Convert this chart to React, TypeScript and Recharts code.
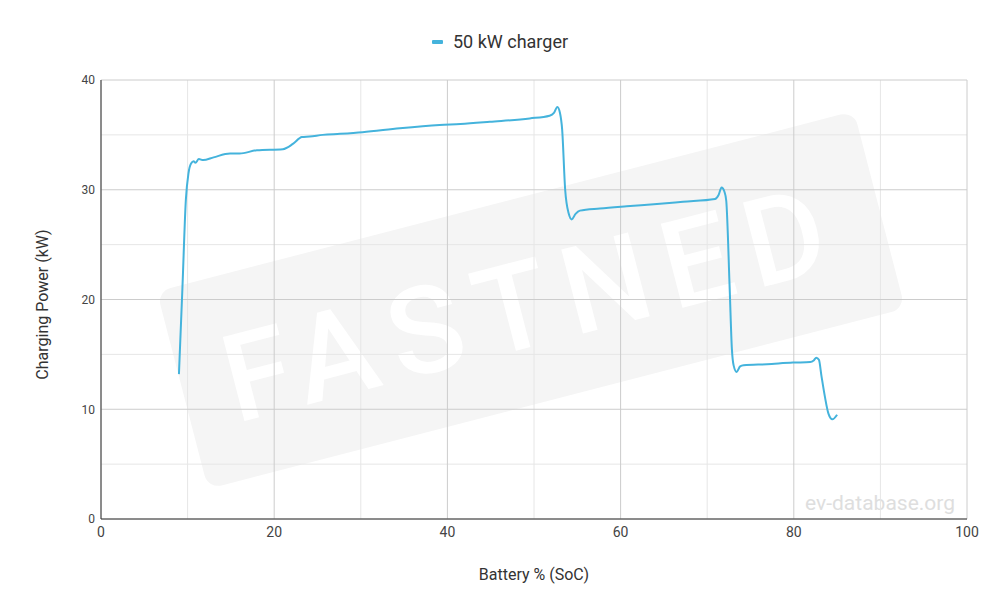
import React from 'react'
import { LineChart, Line, XAxis, YAxis, CartesianGrid, Label } from 'recharts'

const SERIES_NAME = '50 kW charger'
const LINE_COLOR = '#44b3dc'

const soc = [
  9.0, 9.4, 9.8, 10.1, 10.4, 10.7, 10.9, 11.3, 11.8, 13.0, 14.9, 16.0, 18.0, 21.0, 22.2, 23.2, 24.1,
  25.6, 27.6, 30.2, 34.5, 39.1, 41.5, 44.9, 49.5, 51.8, 52.3, 52.7, 53.0, 53.25, 53.6, 54.0, 54.35,
  54.8, 55.3, 57.6, 60.7, 64.2, 67.2, 70.9, 71.3, 71.66, 72.0, 72.2, 72.6, 72.85, 73.05, 73.4, 73.8,
  74.2, 76.9, 79.9, 81.9, 82.3, 82.6, 82.9, 83.2, 83.6, 84.0, 84.45, 85.0,
]
const power = [
  13.2, 21.0, 29.1, 31.5, 32.4, 32.6, 32.45, 32.8, 32.7, 32.95, 33.3, 33.3, 33.6, 33.7, 34.2, 34.8, 34.85,
  35.0, 35.1, 35.25, 35.6, 35.9, 36.0, 36.2, 36.5, 36.75, 37.0, 37.55, 37.0, 35.5, 30.0, 27.85, 27.3,
  27.8, 28.1, 28.3, 28.5, 28.7, 28.9, 29.15, 29.5, 30.2, 29.8, 29.0, 20.9, 15.5, 14.0, 13.4, 13.9,
  14.0, 14.1, 14.25, 14.3, 14.45, 14.7, 14.5, 13.0, 11.1, 9.6, 9.08, 9.5,
]

const xDomain = [0, 100]
const yDomain = [0, 40]
const xTicks = [0, 20, 40, 60, 80, 100]
const yTicks = [0, 10, 20, 30, 40]
const xMinor = [10, 30, 50, 70, 90]
const yMinor = [5, 15, 25, 35]

const data = soc.map((s, i) => ({ soc: s, power: power[i] }))

const font = 'Roboto, "Noto Sans", sans-serif'

function Watermark() {
  return (
    <svg width={1000} height={613} style={{ position: 'absolute', top: 0, left: 0 }}>
      <g transform="translate(531 300) rotate(-14.5)">
        <rect x={-360} y={-102} width={720} height={204} rx={14} fill="#f5f5f5" />
        <text
          x={0}
          y={4}
          textAnchor="middle"
          dominantBaseline="central"
          fill="#ffffff"
          fontFamily={font}
          fontSize={122}
          fontWeight={500}
          letterSpacing={16}
        >
          FASTNED
        </text>
      </g>
      <text x={955} y={510} textAnchor="end" fill="#dedede" fontFamily={font} fontSize={21}>
        ev-database.org
      </text>
    </svg>
  )
}

export default function App() {
  // minor grid lines, placed from the plot offset
  const minorV = (p: any) =>
    xMinor.map((v) => p.offset.left + ((v - xDomain[0]) / (xDomain[1] - xDomain[0])) * p.offset.width)
  const minorH = (p: any) =>
    yMinor.map((v) => p.offset.top + (1 - (v - yDomain[0]) / (yDomain[1] - yDomain[0])) * p.offset.height)

  return (
    <div style={{ position: 'relative', width: 1000, height: 613, fontFamily: font }}>
      <style>{`body{margin:0}`}</style>
      <Watermark />
      <div
        style={{
          position: 'absolute',
          top: 31,
          left: 0,
          width: 1000,
          display: 'flex',
          justifyContent: 'center',
          alignItems: 'center',
          gap: 10,
          zIndex: 2,
        }}
      >
        <span style={{ display: 'inline-block', width: 11, height: 4, background: LINE_COLOR, borderRadius: 1 }} />
        <span style={{ fontSize: 18, color: '#333' }}>{SERIES_NAME}</span>
      </div>
      <div style={{ position: 'absolute', top: 0, left: 0, zIndex: 1 }}>
        <LineChart width={1000} height={613} data={data} margin={{ top: 80, right: 33, bottom: 0, left: 0 }}>
          <CartesianGrid
            stroke="#e6e6e6"
            verticalCoordinatesGenerator={minorV}
            horizontalCoordinatesGenerator={minorH}
          />
          <CartesianGrid stroke="#cccccc" />
          <XAxis
            dataKey="soc"
            type="number"
            domain={xDomain}
            ticks={xTicks}
            height={94}
            tickLine={false}
            tickSize={0}
            tickMargin={8}
            stroke="#333"
            tick={{ fill: '#444', fontSize: 14, fontFamily: font }}
          >
            <Label
              content={({ viewBox }: any) => (
                <text
                  x={viewBox.x + viewBox.width / 2}
                  y={574}
                  textAnchor="middle"
                  dominantBaseline="central"
                  fill="#333"
                  fontSize={16}
                  fontFamily={font}
                >
                  Battery % (SoC)
                </text>
              )}
            />
          </XAxis>
          <YAxis
            type="number"
            domain={yDomain}
            ticks={yTicks}
            width={101}
            tickLine={false}
            tickSize={0}
            tickMargin={6}
            stroke="#333"
            tick={{ fill: '#444', fontSize: 12, fontFamily: font }}
          >
            <Label
              content={({ viewBox }: any) => {
                const cy = viewBox.y + viewBox.height / 2 + 5
                return (
                  <text
                    x={42}
                    y={cy}
                    transform={`rotate(-90 42 ${cy})`}
                    textAnchor="middle"
                    dominantBaseline="central"
                    fill="#333"
                    fontSize={16}
                    fontFamily={font}
                  >
                    Charging Power (kW)
                  </text>
                )
              }}
            />
          </YAxis>
          <Line
            type="monotone"
            dataKey="power"
            name={SERIES_NAME}
            stroke={LINE_COLOR}
            strokeWidth={2}
            dot={false}
            activeDot={false}
            isAnimationActive={false}
          />
        </LineChart>
      </div>
    </div>
  )
}
